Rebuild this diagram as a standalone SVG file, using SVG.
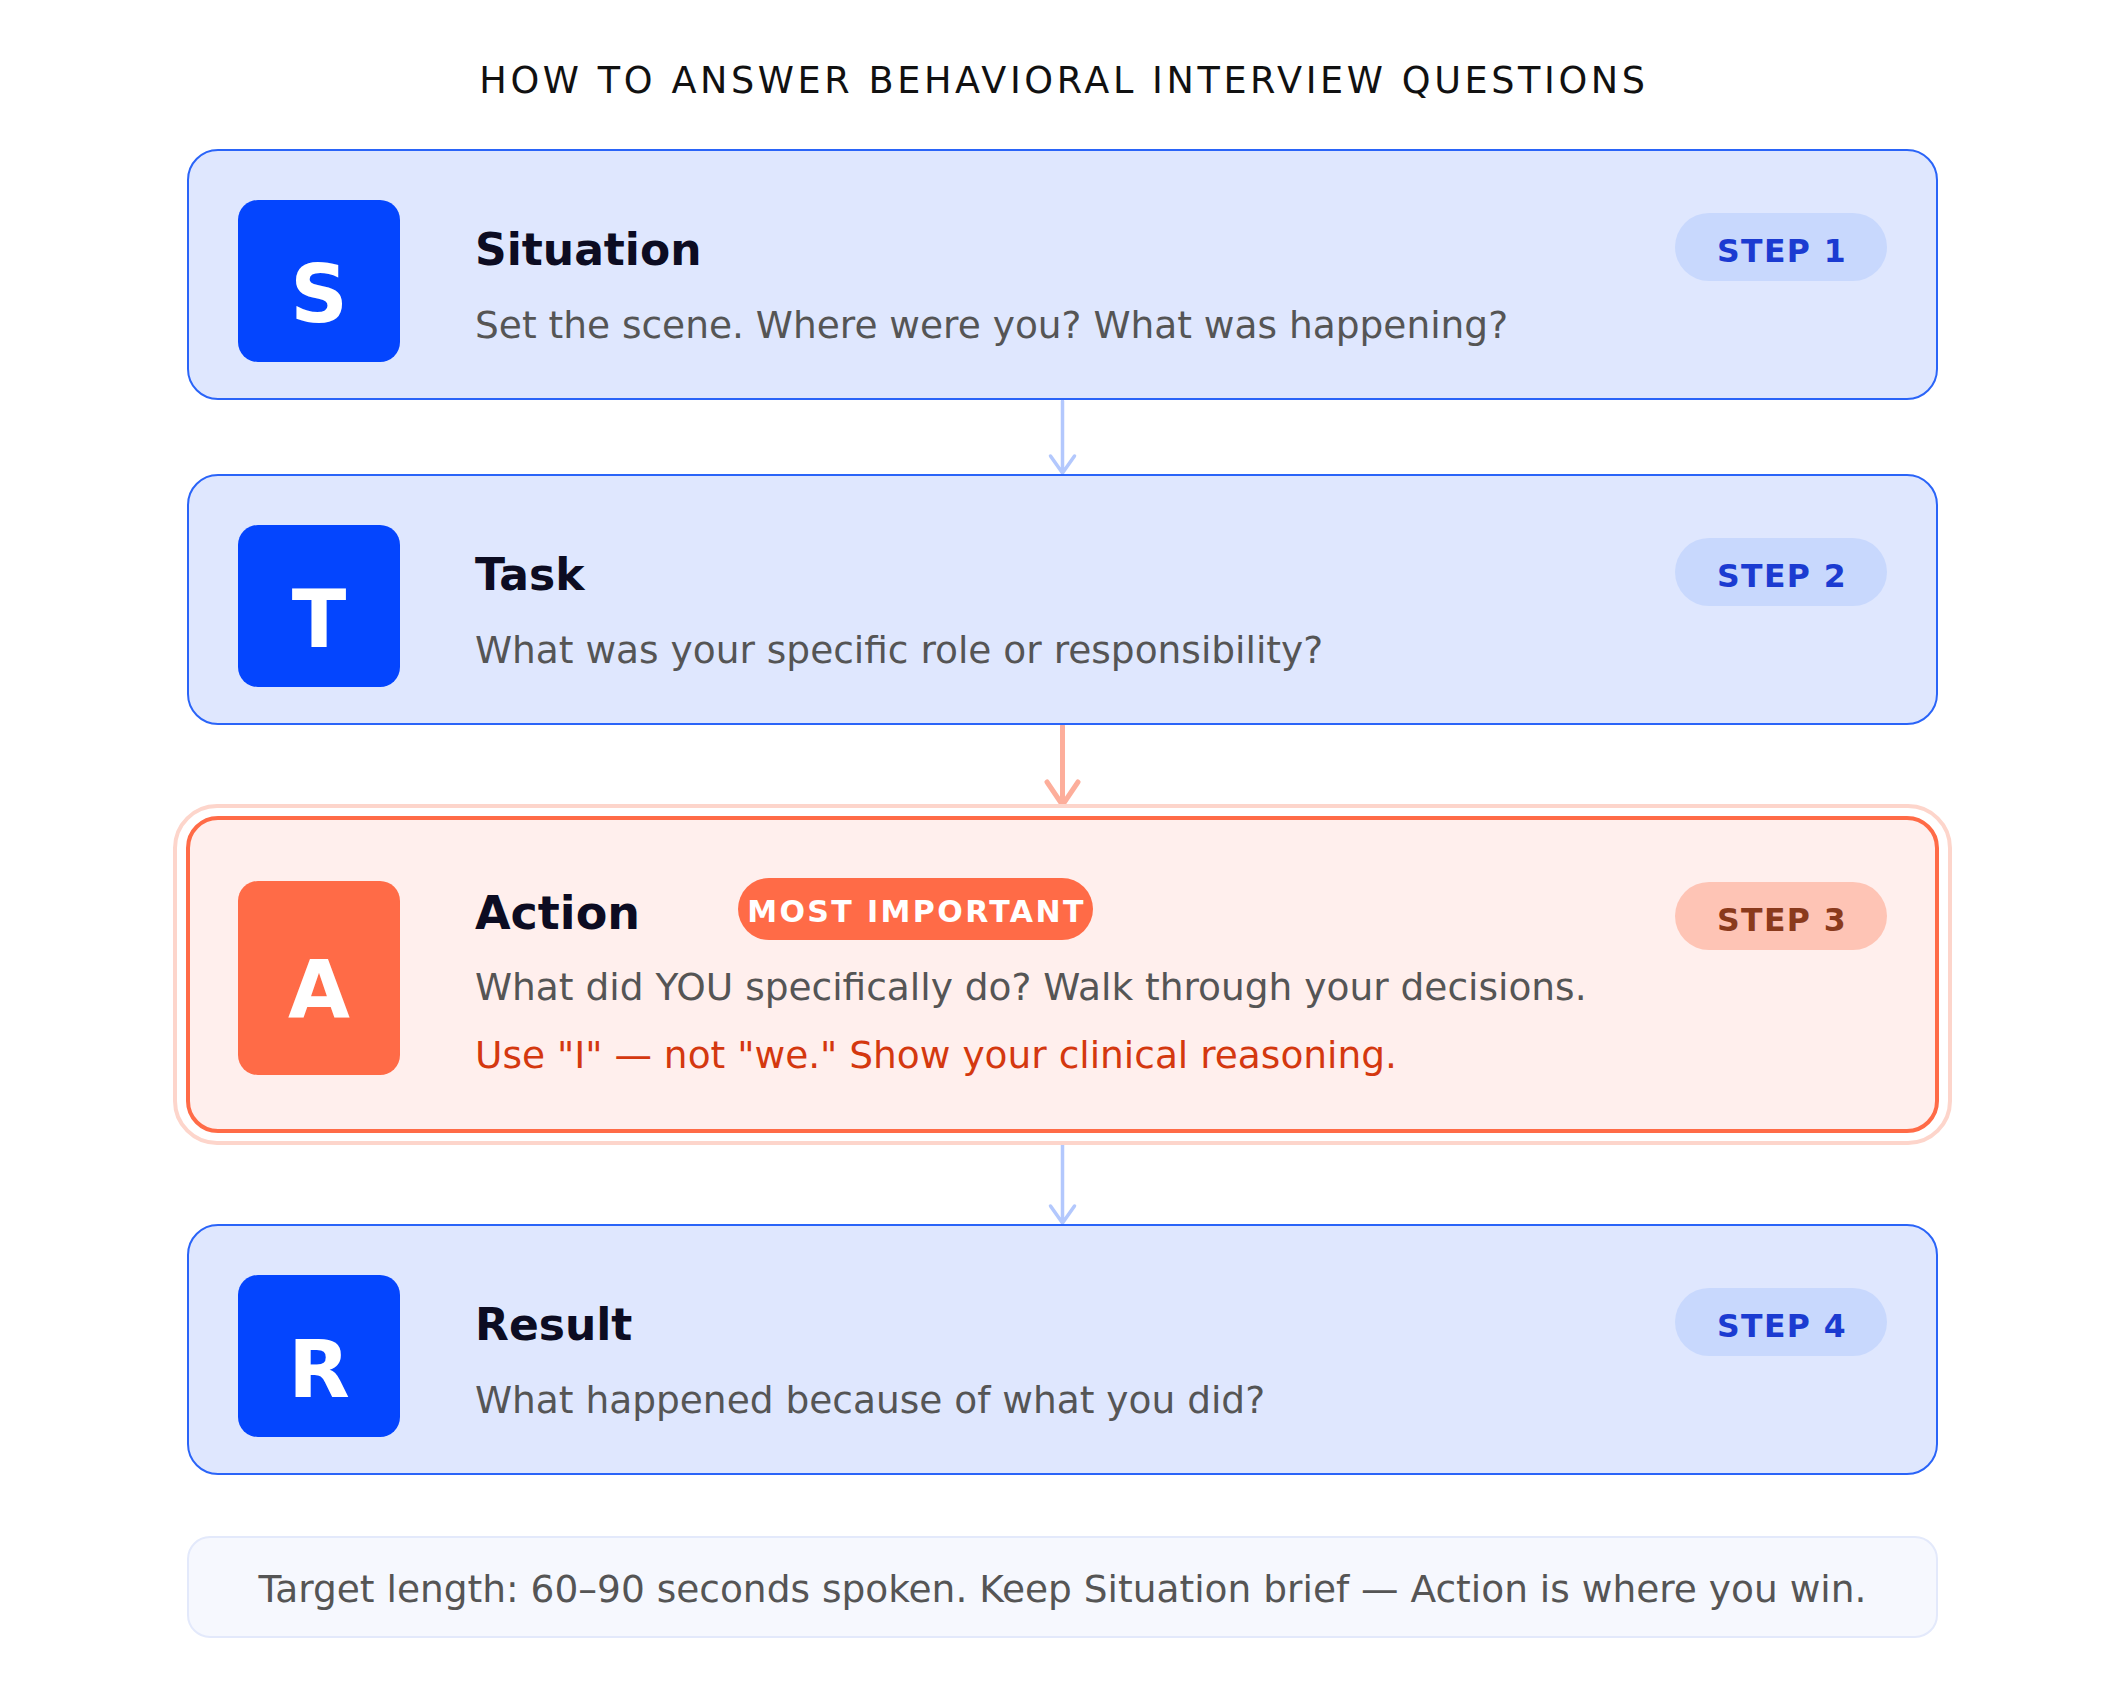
<svg xmlns="http://www.w3.org/2000/svg" width="2125" height="1687" viewBox="0 0 2125 1687">
<defs>
<style>
text{font-family:"DejaVu Sans","Noto Sans",sans-serif}
.card{fill:#dfe7fe;stroke:#2a64f8;stroke-width:2}
.icon{fill:#0445fe}
.letter{font-size:80px;font-weight:bold;fill:#ffffff;text-anchor:middle}
.head{font-size:44px;font-weight:bold;fill:#0c0c22}
.sub{font-size:37.5px;fill:#555555}
.pill{fill:#c8d8fd}
.step{font-size:31.5px;font-weight:bold;fill:#1b3bd1;text-anchor:middle;letter-spacing:1.4px}
.conn-blue{stroke:#b3c8fd;stroke-width:3.5;fill:none;stroke-linecap:round;stroke-linejoin:round}
.conn-orange{stroke:#fdae9b;stroke-width:5;fill:none;stroke-linecap:round;stroke-linejoin:round}
</style>
</defs>
<rect width="2125" height="1687" fill="#ffffff"/>
<text x="1064" y="93" font-size="36.6" fill="#111111" text-anchor="middle" letter-spacing="3.6">HOW TO ANSWER BEHAVIORAL INTERVIEW QUESTIONS</text>

<g id="connectors">
<path class="conn-blue" d="M1062.5,401 V473 M1050.5,456 L1062.5,473 L1074.5,456"/>
<path class="conn-orange" d="M1062.5,726 V805 M1047,782 L1062.5,805 L1078,782"/>
<path class="conn-blue" d="M1062.5,1145 V1223 M1050.5,1206 L1062.5,1223 L1074.5,1206"/>
</g>

<g id="node-situation">
<rect class="card" x="188" y="150" width="1749" height="249" rx="30"/>
<rect class="icon" x="238" y="200" width="162" height="162" rx="20"/>
<text class="letter" x="319" y="322">S</text>
<text class="head" x="475" y="265">Situation</text>
<text class="sub" x="475" y="338">Set the scene. Where were you? What was happening?</text>
<rect class="pill" x="1675" y="213" width="212" height="68" rx="34"/>
<text class="step" x="1782" y="262">STEP 1</text>
</g>

<g id="node-task">
<rect class="card" x="188" y="475" width="1749" height="249" rx="30"/>
<rect class="icon" x="238" y="525" width="162" height="162" rx="20"/>
<text class="letter" x="319" y="647">T</text>
<text class="head" x="475" y="590">Task</text>
<text class="sub" x="475" y="663">What was your specific role or responsibility?</text>
<rect class="pill" x="1675" y="538" width="212" height="68" rx="34"/>
<text class="step" x="1782" y="587">STEP 2</text>
</g>

<g id="node-action">
<rect x="175" y="806" width="1775" height="337" rx="42" fill="#ffffff" stroke="#fdd5cb" stroke-width="4"/>
<rect x="188" y="818" width="1749" height="313" rx="30" fill="#ffefed" stroke="#ff6b47" stroke-width="4"/>
<rect x="238" y="881" width="162" height="194" rx="20" fill="#ff6b47"/>
<text class="letter" x="319" y="1018">A</text>
<text class="head" x="475" y="929" style="font-size:46px">Action</text>
<rect x="738" y="878" width="355" height="62" rx="31" fill="#ff6b47"/>
<text x="916.5" y="922" font-size="30" font-weight="bold" fill="#ffffff" text-anchor="middle" letter-spacing="2.4">MOST IMPORTANT</text>
<text class="sub" x="475" y="1000">What did YOU specifically do? Walk through your decisions.</text>
<text x="475" y="1068" font-size="37.5" fill="#d4380f">Use "I" — not "we." Show your clinical reasoning.</text>
<rect x="1675" y="882" width="212" height="68" rx="34" fill="#fec4b5"/>
<text class="step" x="1782" y="931" style="fill:#8a3a1c">STEP 3</text>
</g>

<g id="node-result">
<rect class="card" x="188" y="1225" width="1749" height="249" rx="30"/>
<rect class="icon" x="238" y="1275" width="162" height="162" rx="20"/>
<text class="letter" x="319" y="1397">R</text>
<text class="head" x="475" y="1340">Result</text>
<text class="sub" x="475" y="1413">What happened because of what you did?</text>
<rect class="pill" x="1675" y="1288" width="212" height="68" rx="34"/>
<text class="step" x="1782" y="1337">STEP 4</text>
</g>

<g id="note">
<rect x="188" y="1537" width="1749" height="100" rx="22" fill="#f6f8fe" stroke="#e3e9fb" stroke-width="2"/>
<text x="1062.5" y="1602" font-size="37.5" fill="#555555" text-anchor="middle">Target length: 60–90 seconds spoken. Keep Situation brief — Action is where you win.</text>
</g>
</svg>
